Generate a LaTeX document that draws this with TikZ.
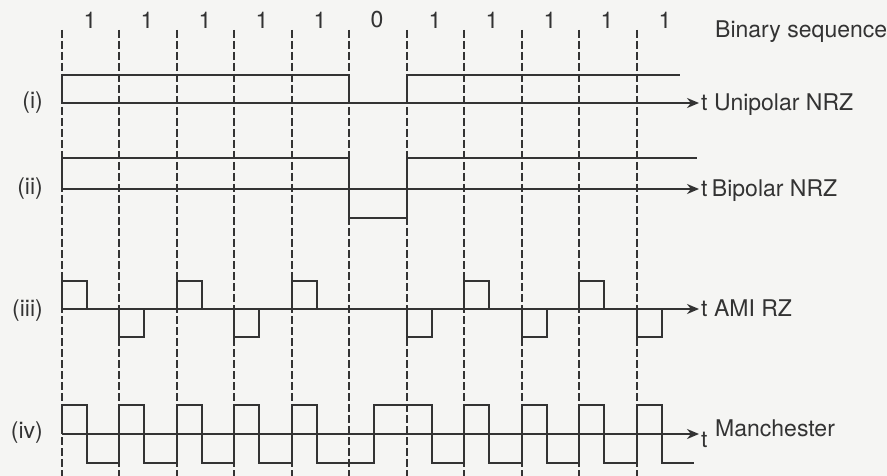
\documentclass[tikz,border=0pt]{standalone}
\usepackage{fontspec}
\setmainfont{TeX Gyre Heros}
\usetikzlibrary{arrows.meta,positioning}
\definecolor{inkgray}{HTML}{333333}
\definecolor{paper}{HTML}{F5F5F3}
\newcommand\bitx[1]{62+floor(57.5*(#1))}

\begin{document}
\begin{tikzpicture}[x=1pt, y=-1pt, every node/.style={font=\fontsize{23}{27}\selectfont, text=inkgray, inner sep=0pt},
  wave/.style={draw=inkgray, line width=2pt},
  tick/.style={draw=inkgray, line width=1.8pt, dash pattern=on 8pt off 3pt},
  axis/.style={draw=inkgray, line width=2pt, -{Stealth[length=12pt, width=10pt]}, shorten >=2pt}]
  \fill[paper] (0,0) rectangle (887,476);
  \useasboundingbox (0,0) rectangle (887,476);
  % bits and clock lines
  \foreach \b [count=\k from 0] in {1,1,1,1,1,0,1,1,1,1,1} {
    \node (bit\k) at ({\bitx{\k}+28},20) {\b};
    \draw[tick] ({\bitx{\k}},30) -- ({\bitx{\k}},476);
  }
  \node[anchor=base west] (seq) at (715,38) {Binary sequence};

  % (i) unipolar NRZ
  \node[anchor=east] (lbli) at (43,103) {(i)};
  \coordinate (oi) at (62,103);
  \node[anchor=west] (ti) at (701,103) {t};
  \node[base right=6pt of ti] (nrzi) {Unipolar NRZ};
  \draw[wave] (62,103) -- (62,75) -- (349,75) -- (349,103);
  \draw[wave] (407,103) -- (407,75) -- (680,75);
  \draw[axis] (oi) -- (ti.west);

  % (ii) bipolar NRZ
  \node[anchor=east] (lblii) at (43,189) {(ii)};
  \coordinate (oii) at (62,189);
  \node[anchor=west] (tii) at (701,189) {t};
  \node[base right=4pt of tii] (nrzii) {Bipolar NRZ};
  \draw[wave] (62,189) -- (62,158) -- (349,158) -- (349,218) -- (407,218) -- (407,158) -- (697,158);
  \draw[axis] (oii) -- (tii.west);

  % (iii) AMI RZ
  \node[anchor=east] (lbliii) at (43,311) {(iii)};
  \coordinate (oiii) at (62,309);
  \node[anchor=west] (tiii) at (701,309) {t};
  \node[base right=6pt of tiii] (amirz) {AMI RZ};
  \foreach \s [count=\k from 0] in {1,-1,1,-1,1,0,-1,1,-1,1,-1}
    \draw[wave] ({\bitx{\k}},309) -- ({\bitx{\k}},{309-28*\s}) -- ({\bitx{\k}+25},{309-28*\s}) -- ({\bitx{\k}+25},309);
  \draw[axis] (oiii) -- (tiii.west);

  % (iv) Manchester
  \node[anchor=east] (lbliv) at (43,433) {(iv)};
  \coordinate (oiv) at (62,434);
  \node[anchor=west] (tiv) at (701,440) {t};
  \node[anchor=west] (mch) at (715,428) {Manchester};
  \draw[wave] (62,434) foreach \b [count=\k from 0] in {1,1,1,1,1,0,1,1,1,1,1} {
    -- ({\bitx{\k}},{434-29*(2*\b-1)}) -- ({\bitx{\k}+25},{434-29*(2*\b-1)})
    -- ({\bitx{\k}+25},{434+29*(2*\b-1)}) -- ({\bitx{\k+1}},{434+29*(2*\b-1)}) };
  \draw[axis] (oiv) -- (oiv -| tiv.west);
\end{tikzpicture}
\end{document}
